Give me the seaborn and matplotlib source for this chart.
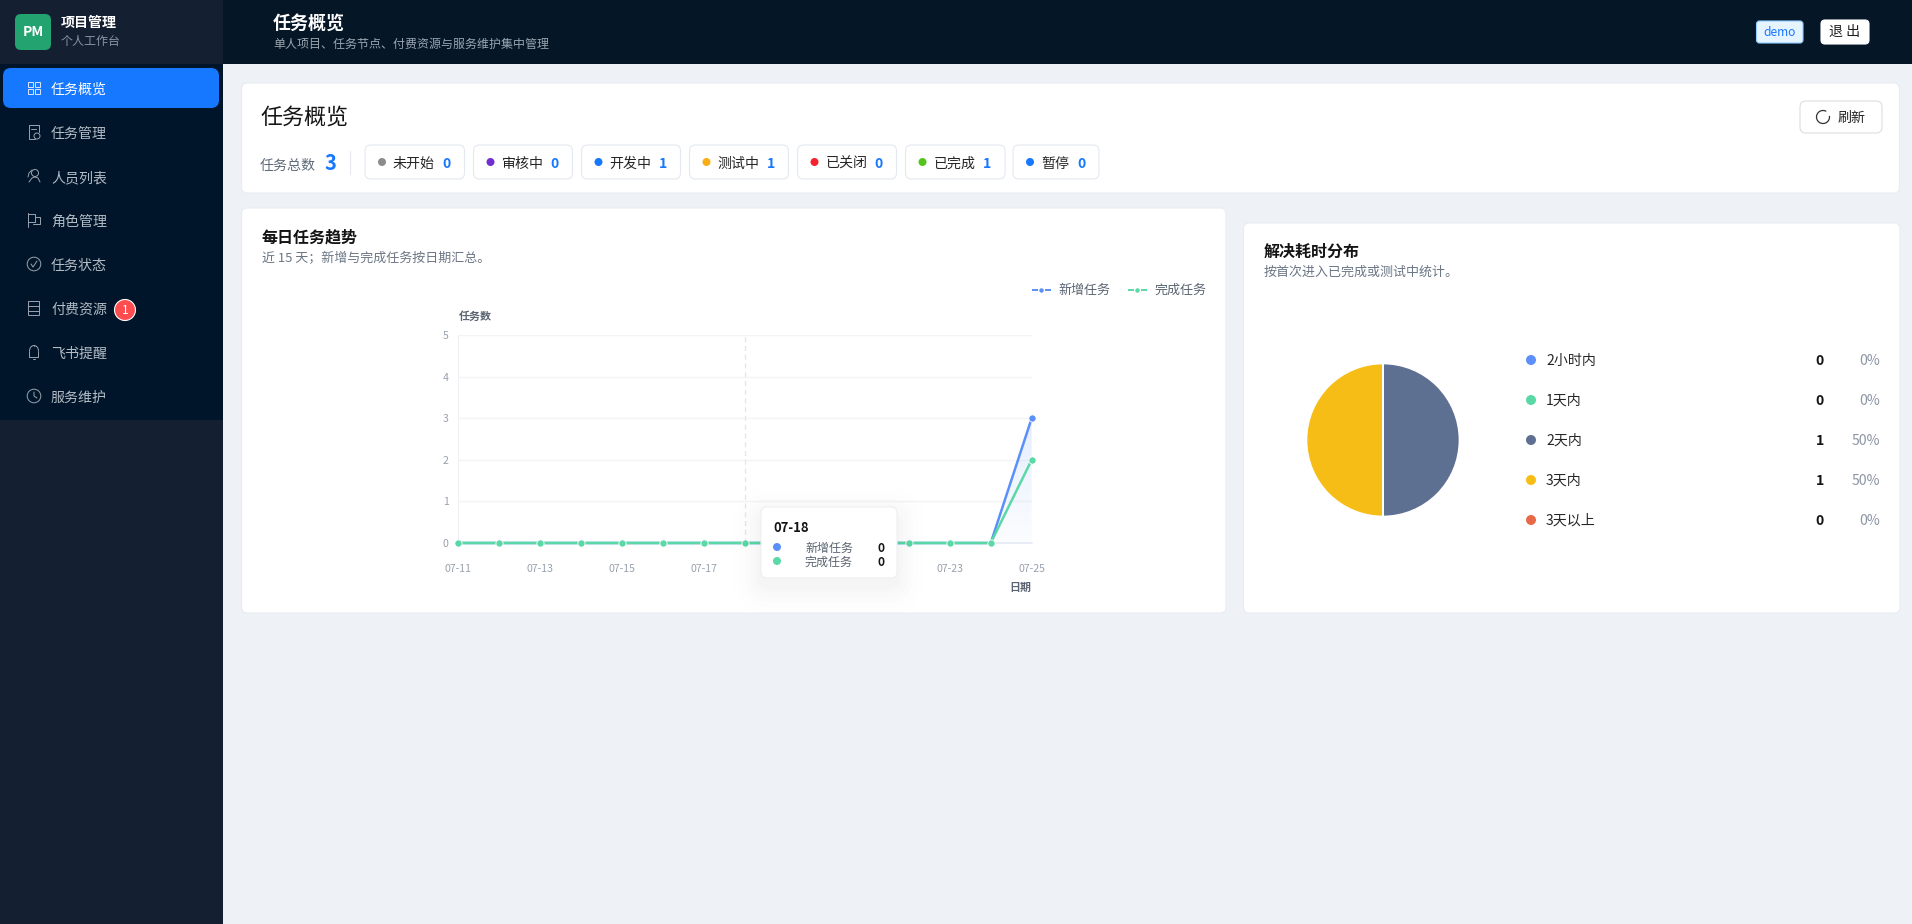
import numpy as np
import pandas as pd
import matplotlib
matplotlib.use('Agg')
import matplotlib.pyplot as plt
from matplotlib.patches import FancyBboxPatch, Rectangle, Circle, Arc
import seaborn as sns

# chart data
dates = ['07-11', '07-12', '07-13', '07-14', '07-15', '07-16', '07-17', '07-18',
         '07-19', '07-20', '07-21', '07-22', '07-23', '07-24', '07-25']
new_tasks = [0, 0, 0, 0, 0, 0, 0, 0, 0, 0, 0, 0, 0, 0, 3]
done_tasks = [0, 0, 0, 0, 0, 0, 0, 0, 0, 0, 0, 0, 0, 0, 2]
series_names = ['新增任务', '完成任务']
series_colors = ['#5b8ff9', '#5ad8a6']

pie_labels = ['2小时内', '1天内', '2天内', '3天内', '3天以上']
pie_counts = [0, 0, 1, 1, 0]
pie_percents = ['0%', '0%', '50%', '50%', '0%']
pie_colors = ['#5b8ff9', '#5ad8a6', '#5d7092', '#f6bd16', '#e8684a']

status_labels = ['未开始', '审核中', '开发中', '测试中', '已关闭', '已完成', '暂停']
status_counts = [0, 0, 1, 1, 0, 1, 0]
status_colors = ['#8c8c8c', '#722ed1', '#1677ff', '#faad14', '#f5222d', '#52c41a', '#1677ff']

menu_labels = ['任务概览', '任务管理', '人员列表', '角色管理', '任务状态', '付费资源', '飞书提醒', '服务维护']

W, H = 1912, 924
sns.set_theme(style='white')
plt.rcParams['font.family'] = ['Noto Sans CJK SC', 'DejaVu Sans']

fig = plt.figure(figsize=(W / 100, H / 100), dpi=100, facecolor='#eef1f6')


def px_axes(x0, y0, x1, y1, z):
    ax = fig.add_axes([x0 / W, 1 - y1 / H, (x1 - x0) / W, (y1 - y0) / H], zorder=z)
    return ax


bg = px_axes(0, 0, W, H, 0)
bg.set_xlim(0, W)
bg.set_ylim(H, 0)
bg.axis('off')


def box(ax, x0, y0, x1, y1, fc, ec='none', r=6, lw=0.8, **kw):
    p = FancyBboxPatch((x0, y0), x1 - x0, y1 - y0, boxstyle=f'round,pad=0,rounding_size={r}',
                       fc=fc, ec=ec, lw=lw, **kw)
    ax.add_patch(p)
    return p


def txt(ax, x, y, s, px, color, weight='normal', ha='left', **kw):
    # the CJK font sits a little high when centred
    return ax.text(x, y + 1, s, fontsize=px * 0.72, color=color, fontweight=weight, ha=ha,
                   va='center', **kw)


def stroke(xs, ys, c, lw=0.7):
    bg.plot(xs, ys, color=c, lw=lw, solid_capstyle='round')


def menu_icon(i, cx, cy, c):
    if i == 0:
        for dx in (-3.5, 3.5):
            for dy in (-3.5, 3.5):
                bg.add_patch(Rectangle((cx + dx - 2.5, cy + dy - 2.5), 5, 5, fc='none', ec=c, lw=0.7))
    elif i == 1:
        stroke([cx + 5, cx + 5, cx - 5, cx - 5, cx + 1], [cy, cy - 7, cy - 7, cy + 7, cy + 7], c)
        stroke([cx - 3, cx + 2], [cy - 3, cy - 3], c)
        bg.add_patch(Circle((cx + 3, cy + 4), 3, fc='none', ec=c, lw=0.7))
    elif i == 2:
        bg.add_patch(Circle((cx + 1, cy - 3), 3.5, fc='none', ec=c, lw=0.7))
        stroke([cx - 5, cx - 2, cx + 1, cx + 4, cx + 6], [cy + 6, cy + 2, cy + 1, cy + 2, cy + 6], c)
        stroke([cx - 2, cx - 5, cx - 6], [cy - 6, cy - 3, cy + 1], c)
    elif i == 3:
        stroke([cx - 6, cx - 6], [cy - 7, cy + 7], c)
        stroke([cx - 6, cx + 1, cx + 1, cx - 6], [cy - 6, cy - 6, cy + 2, cy + 2], c)
        stroke([cx + 1, cx + 6, cx + 6, cx - 1], [cy - 3, cy - 3, cy + 4, cy + 4], c)
    elif i == 4:
        bg.add_patch(Circle((cx, cy), 6.8, fc='none', ec=c, lw=0.7))
        stroke([cx - 3, cx - 1, cx + 3], [cy, cy + 3, cy - 3], c)
    elif i == 5:
        bg.add_patch(Rectangle((cx - 5.5, cy - 7), 11, 14, fc='none', ec=c, lw=0.7))
        stroke([cx - 5.5, cx + 5.5], [cy - 2, cy - 2], c)
        stroke([cx - 5.5, cx + 5.5], [cy + 3, cy + 3], c)
    elif i == 6:
        bg.add_patch(Arc((cx, cy - 1), 9, 11, theta1=180, theta2=360, ec=c, lw=0.7))
        stroke([cx - 4.5, cx - 4.5, cx + 4.5, cx + 4.5], [cy - 1, cy + 5, cy + 5, cy - 1], c)
        stroke([cx - 1, cx + 1], [cy + 7, cy + 7], c)
        stroke([cx, cx], [cy - 7.5, cy - 6.5], c)
    else:
        bg.add_patch(Circle((cx, cy), 6.8, fc='none', ec=c, lw=0.7))
        stroke([cx, cx, cx + 3], [cy - 4, cy, cy + 2], c)


# sidebar and header
bg.add_patch(Rectangle((0, 0), 223, H, fc='#141f31', ec='none'))
bg.add_patch(Rectangle((0, 64), 223, 356, fc='#001529', ec='none'))
bg.add_patch(Rectangle((223, 0), W - 223, 63.5, fc='#051727', ec='none'))
box(bg, 15, 14, 51, 50, '#23a36f', r=6)
txt(bg, 33, 31, 'PM', 14, 'white', 'bold', ha='center')
txt(bg, 61, 22, '项目管理', 14, 'white', 'bold')
txt(bg, 61, 40, '个人工作台', 12, '#8a94a3')
txt(bg, 273, 23, '任务概览', 18, 'white', 'bold')
txt(bg, 273, 43, '单人项目、任务节点、付费资源与服务维护集中管理', 12, '#9aa5b1')

box(bg, 1756.5, 21, 1803, 43, '#e6f4ff', '#91caff', r=3)
txt(bg, 1779.5, 31, 'demo', 12, '#1677ff', ha='center')
box(bg, 1821, 20, 1869, 44, 'white', '#ffffff', r=4)
txt(bg, 1845, 31, '退 出', 14, '#1f1f1f', ha='center')

box(bg, 3, 68, 219, 108, '#1677ff', r=8)
for i, label in enumerate(menu_labels):
    cy = 89 + 44 * i
    c = 'white' if i == 0 else '#b4bcc6'
    ic = '#dbe6f7' if i == 0 else '#9aa3af'
    menu_icon(i, 34, cy - 1, ic)
    txt(bg, 51, cy, label, 14, c)
bg.add_patch(Circle((125, 310), 10.5, fc='#ff4d4f', ec='white', lw=0.8))
txt(bg, 125, 310, '1', 12, 'white', ha='center')

# overview card
box(bg, 241.5, 83, 1899.5, 193, 'white', '#e9ecf1', r=6)
txt(bg, 260, 117, '任务概览', 22, '#141414')
txt(bg, 260, 165, '任务总数', 14, '#5f6b7a')
txt(bg, 330, 163, '3', 20, '#1677ff', 'bold', ha='center')
bg.plot([350.5, 350.5], [151, 174], color='#e6e9ef', lw=0.8)

chip_left = [365, 473.5, 581.5, 689.5, 797.5, 905.5, 1013]
chip_right = [464.5, 572.5, 680.5, 788.5, 896.5, 1005, 1099]
for i, label in enumerate(status_labels):
    x0 = chip_left[i]
    box(bg, x0, 145, chip_right[i], 179, 'white', '#e4e8ef', r=6)
    bg.add_patch(Circle((x0 + 17, 162), 4, fc=status_colors[i], ec='none'))
    txt(bg, x0 + 28, 162.5, label, 14, '#262626')
    txt(bg, chip_right[i] - 17.5, 162.5, str(status_counts[i]), 14, '#1677ff', 'bold', ha='center')

box(bg, 1800, 101, 1882, 133, 'white', '#dedede', r=6)
bg.add_patch(Arc((1823, 117), 13, 13, theta1=-10, theta2=300, ec='#333333', lw=0.9))
txt(bg, 1838, 117, '刷新', 14, '#262626')

# trend card
box(bg, 241.5, 208, 1226, 613, 'white', '#e9ecf1', r=6)
txt(bg, 262, 237, '每日任务趋势', 16, '#141414', 'bold')
txt(bg, 262, 258, '近 15 天；新增与完成任务按日期汇总。', 13, '#6b7685')

# pie card
box(bg, 1243.5, 223, 1900, 613, 'white', '#e9ecf1', r=6)
txt(bg, 1264, 251, '解决耗时分布', 16, '#141414', 'bold')
txt(bg, 1264, 271, '按首次进入已完成或测试中统计。', 13, '#6b7685')

# line chart
ax = px_axes(458.3, 335, 1031.7, 543, 1)
ax.patch.set_alpha(0)
df = pd.DataFrame({
    'date': dates * 2,
    'count': new_tasks + done_tasks,
    'series': [series_names[0]] * len(dates) + [series_names[1]] * len(dates),
})
sns.lineplot(data=df, x='date', y='count', hue='series', hue_order=series_names,
             palette=series_colors, sort=False, marker='o', markersize=5.2,
             markeredgecolor='white', markeredgewidth=0.6, lw=1.8, legend=False,
             clip_on=False, zorder=4, ax=ax)
ax.set_xlim(0, len(dates) - 1)
ax.set_ylim(0, 5)
ax.set_yticks(range(6))
ax.set_xticks(range(0, len(dates), 2))
ax.set_xticklabels(dates[::2])
ax.set_xlabel('')
ax.set_ylabel('')
ax.grid(axis='y', color='#f3f4f7', lw=1)
ax.grid(axis='x', visible=False)
ax.tick_params(axis='both', length=0, labelsize=7.6, labelcolor='#98a1ae', pad=7)
ax.tick_params(axis='x', pad=15)
for name, sp in ax.spines.items():
    sp.set_visible(name == 'left')
    sp.set_color('#eef0f4')
    sp.set_linewidth(0.8)

# light gradient below the new-task line
area = ax.fill_between(range(len(dates)), new_tasks, 0, color='none')
grad = np.linspace(0.16, 0.02, 100).reshape(-1, 1)
rgba = np.ones((100, 1, 4))
rgba[:, :, :3] = matplotlib.colors.to_rgb(series_colors[0])
rgba[:, :, 3] = grad
im = ax.imshow(rgba, extent=[0, len(dates) - 1, 0, 3], aspect='auto', zorder=1)
im.set_clip_path(area.get_paths()[0], ax.transData)
ax.set_xlim(0, len(dates) - 1)
ax.set_ylim(0, 5)
ax.plot([0, len(dates) - 1], [0, 0], color='#e8edf5', lw=1.5, zorder=2, clip_on=False)
ax.axvline(dates.index('07-18'), color='#e1e5ed', lw=0.9, ls=(0, (4, 3)), zorder=2)

top = px_axes(0, 0, W, H, 2)
top.set_xlim(0, W)
top.set_ylim(H, 0)
top.axis('off')
top.patch.set_alpha(0)

txt(top, 475, 315.5, '任务数', 11, '#5a6472', 'bold', ha='center')
txt(top, 1031, 587, '日期', 11, '#5a6472', 'bold', ha='right')

# legend above the chart
leg_x = [1032, 1128]
for x0, name, col in zip(leg_x, series_names, series_colors):
    top.plot([x0, x0 + 6], [290, 290], color=col, lw=1.4, solid_capstyle='butt')
    top.plot([x0 + 13, x0 + 19], [290, 290], color=col, lw=1.4, solid_capstyle='butt')
    top.plot([x0 + 9.5], [290], 'o', color=col, ms=3.2, mew=0)
    txt(top, x0 + 26, 289.5, name, 13, '#5a6472')

# tooltip
for grow, a in [(28, 0.004), (22, 0.005), (16, 0.006), (11, 0.007), (6, 0.008), (3, 0.008)]:
    box(top, 761 - grow, 507 - grow + 8, 897 + grow, 578 + grow + 8, 'black', r=10 + grow, alpha=a)
box(top, 761, 507, 897, 578, 'white', '#eceff3', r=6)
txt(top, 773, 527, '07-18', 13, '#141414', 'bold')
idx = dates.index('07-18')
tip_values = [new_tasks[idx], done_tasks[idx]]
for y, name, col, v in zip([547, 561], series_names, series_colors, tip_values):
    top.add_patch(Circle((777, y), 4, fc=col, ec='none'))
    txt(top, 805, y, name, 12, '#5a6472')
    txt(top, 881, y, str(v), 12, '#141414', 'bold', ha='center')

# pie, zero slices add nothing
pie_ax = px_axes(1383 - 77, 440 - 77, 1383 + 77, 440 + 77, 1)
pie_ax.pie(pie_counts, colors=pie_colors, startangle=90, counterclock=False, radius=1,
           wedgeprops={'edgecolor': 'white', 'linewidth': 1.4})
pie_ax.set_xlim(-1.005, 1.005)
pie_ax.set_ylim(-1.005, 1.005)

for i, label in enumerate(pie_labels):
    y = 360 + 40 * i
    bg.add_patch(Circle((1531, y), 5, fc=pie_colors[i], ec='none'))
    txt(bg, 1546, y, label, 14, '#262626')
    txt(bg, 1820, y, str(pie_counts[i]), 14, '#141414', 'bold', ha='center')
    txt(bg, 1880, y, pie_percents[i], 14, '#8c95a3', ha='right')

fig.savefig('out.png', dpi=100, facecolor=fig.get_facecolor())
